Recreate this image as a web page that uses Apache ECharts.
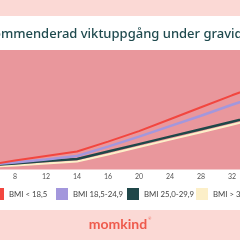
<!DOCTYPE html>
<html><head><meta charset="utf-8">
<script src="https://cdn.jsdelivr.net/npm/echarts@6/dist/echarts.min.js"></script>
<style>html,body{margin:0;padding:0;background:#fff}#c{width:240px;height:240px}</style>
</head><body><div id="c"></div>
<script>
var weeks = ['4','8','12','14','16','20','24','28','32','36'];
var bmiUnder = [0.8, 1.8, 2.7, 3.6, 5.6, 7.7, 10.1, 12.5, 14.9, 17.2];
var bmiNormal = [0.9, 1.4, 2.0, 2.7, 4.6, 6.6, 8.7, 10.8, 13.0, 15.1];
var bmiOver = [0.8, 1.2, 1.7, 2.1, 3.6, 5.1, 6.6, 8.1, 9.6, 11.1];
var bmiObese = [0.5, 0.8, 1.2, 1.6, 3.0, 4.5, 6.0, 7.5, 9.0, 10.5];
var seriesNames = ['BMI < 18,5', 'BMI 18,5-24,9', 'BMI 25,0-29,9', 'BMI > 30,0'];
var title = 'Rekommenderad viktuppgång under graviditeten';

var colors = ['#f2463f', '#a397dc', '#1f4749', '#fcefc8'];
var chart = echarts.init(document.getElementById('c'), null, {renderer: 'canvas'});
var legendLefts = [-8, 56, 127, 196];
var legends = seriesNames.map(function (n, i) {
  return {
    data: [n], left: legendLefts[i], top: 188, itemWidth: 12, itemHeight: 12,
    icon: 'rect', padding: 0, itemGap: 0,
    textStyle: {fontSize: 7.8, color: '#444', fontFamily: 'Lato'}
  };
});
var dataSets = [bmiUnder, bmiNormal, bmiOver, bmiObese];
var widths = [2, 2.5, 2.5, 2];
var series = [3, 2, 1, 0].map(function (i) {
  return {
    name: seriesNames[i], type: 'line', symbol: 'none',
    data: dataSets[i].map(function (v, k) { return [k, v]; }),
    lineStyle: {color: colors[i], width: widths[i]}, itemStyle: {color: colors[i]},
    z: 10 - i, animation: false
  };
});
var labelIdx = [];
for (var k = 1; k < weeks.length - 1; k++) labelIdx.push(k);
chart.setOption({
  animation: false,
  grid: {left: 0, right: 0, top: 50, bottom: 70.5, show: true, backgroundColor: '#e9979c', borderWidth: 0},
  graphic: [
    {type: 'rect', left: 0, top: 0, shape: {width: 240, height: 16}, style: {fill: '#fbd9d5'}},
    {type: 'rect', left: 0, top: 210, shape: {width: 240, height: 30}, style: {fill: '#fbd9d5'}},
    {type: 'text', x: 118, y: 224, style: {text: 'momkind', fill: '#ee5a4c', font: 'bold 14px Lato', textAlign: 'center', textVerticalAlign: 'middle'}},
    {type: 'text', x: 148, y: 219, style: {text: '®', fill: '#ee5a4c', font: '4px Lato', textAlign: 'left', textVerticalAlign: 'middle'}},
    {type: 'text', x: -30, y: 34, style: {text: title, fill: '#1f4a4e', font: '500 13px "Noto Sans"', textAlign: 'left', textVerticalAlign: 'middle'}}
  ],
  legend: legends,
  xAxis: {
    type: 'value', min: 1 - 15 / 31, max: 1 + 225 / 31,
    axisLine: {show: false}, axisTick: {show: false}, splitLine: {show: false},
    axisLabel: {fontSize: 7, color: '#555', margin: 4, fontFamily: 'Lato',
      customValues: labelIdx, formatter: function (v) { return weeks[Math.round(v)]; }}
  },
  yAxis: {type: 'value', min: 0, max: 24, show: false, splitLine: {show: false}},
  series: series
});
</script></body></html>
